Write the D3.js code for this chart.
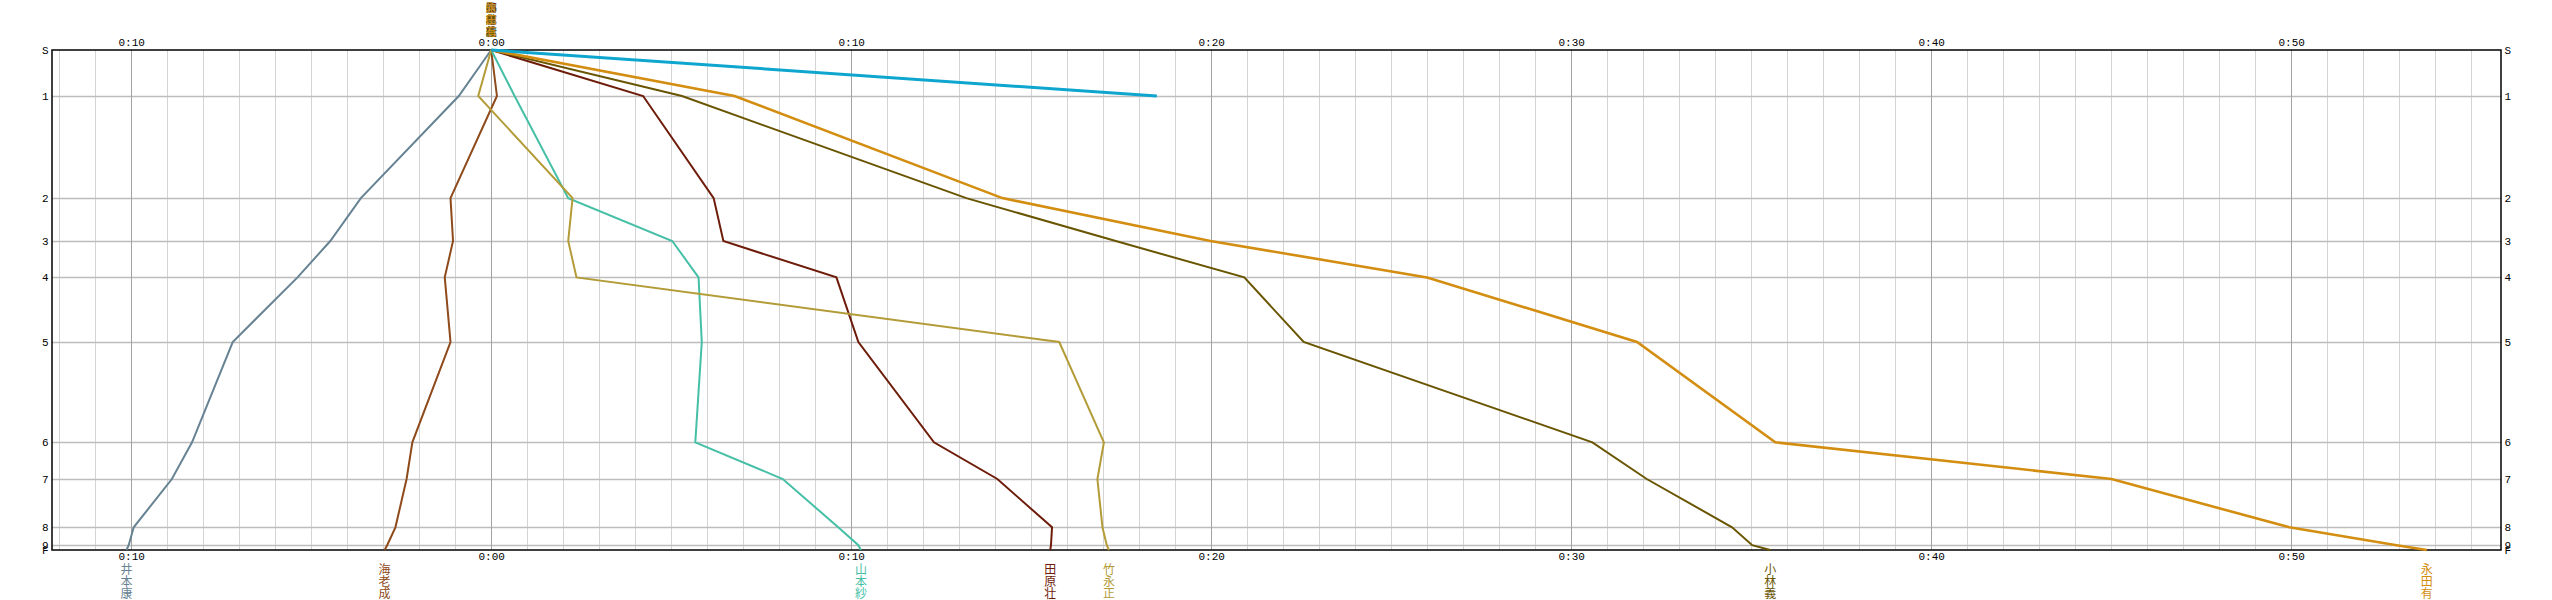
<!DOCTYPE html>
<html>
<head>
<meta charset="utf-8">
<script src="https://cdn.jsdelivr.net/npm/d3@7"></script>
<style>
  html, body { margin: 0; padding: 0; background: #ffffff; }
  svg { display: block; }
</style>
</head>
<body>
<svg id="chart" width="2552" height="600"></svg>
<script>
// ---- data ----
const controls = ["S", "1", "2", "3", "4", "5", "6", "7", "8", "9", "F"];
// cumulative course position of each control (km)
const controlDist = [0, 0.46, 1.481, 1.91, 2.274, 2.92, 3.923, 4.29, 4.773, 4.952, 5.0];
// time difference (minutes) against reference at each control
const names = ["井本康", "海老成", "山本紗", "田原壮", "竹永正", "小林義", "永田有", ""];
const inomoto   = [0, -0.9, -3.62, -4.47, -5.38, -7.18, -8.31, -8.87, -9.93, -10.07, -10.13];
const ebi       = [0, 0.16, -1.13, -1.06, -1.29, -1.13, -2.19, -2.35, -2.66, -2.89, -2.96];
const yamamoto  = [0, 0.65, 2.14, 5.03, 5.76, 5.85, 5.67, 8.1, 9.64, 10.2, 10.27];
const tahara    = [0, 4.22, 6.18, 6.45, 9.59, 10.2, 12.3, 14.06, 15.58, 15.55, 15.53];
const takenaga  = [0, -0.36, 2.26, 2.14, 2.37, 15.78, 17.02, 16.84, 16.98, 17.1, 17.16];
const kobayashi = [0, 5.3, 13.2, 17.35, 20.92, 22.57, 30.59, 32.1, 34.47, 35.03, 35.53];
const nagata    = [0, 6.76, 14.2, 19.98, 26.0, 31.83, 35.67, 45.01, 49.95, 52.93, 53.77];
const unnamed   = [0, 18.49];
const seriesValues = [inomoto, ebi, yamamoto, tahara, takenaga, kobayashi, nagata, unnamed];
const colors = ["#678393", "#8e4a1a", "#45bfa6", "#6e1c0a", "#b39c38", "#695500", "#d38e12", "#0ea6cf"];
const widths = [2, 2, 2, 2, 2, 2, 2.6, 3];
const xTicks = [-10, 0, 10, 20, 30, 40, 50];
const xDomain = [-12.2, 55.83];

// ---- layout ----
const svg = d3.select("#chart");
const L = 52, R = 2501, T = 50, B = 550;
const x = d3.scaleLinear().domain(xDomain).range([L, R]);
const y = d3.scaleLinear().domain([0, 5.0]).range([T, B]);

const fmt = m => "0:" + String(Math.abs(m)).padStart(2, "0");
const tickFont = "'Liberation Mono', 'DejaVu Sans Mono', monospace";
const cjkFont = "'Noto Sans CJK JP', 'Noto Sans CJK SC', sans-serif";

// minor vertical grid each minute
const minutes = d3.range(Math.ceil(xDomain[0]), Math.floor(xDomain[1]) + 1);
svg.append("g").selectAll("line").data(minutes.filter(m => m % 10 !== 0)).join("line")
  .attr("x1", d => Math.round(x(d)) + 0.5).attr("x2", d => Math.round(x(d)) + 0.5)
  .attr("y1", T).attr("y2", B)
  .attr("stroke", "#d4d4d4").attr("stroke-width", 1);

// horizontal control lines
svg.append("g").selectAll("line").data(controlDist.slice(1, -1)).join("line")
  .attr("x1", L).attr("x2", R)
  .attr("y1", d => Math.round(y(d)) + 0.5).attr("y2", d => Math.round(y(d)) + 0.5)
  .attr("stroke", "#bdbdbd").attr("stroke-width", 1.5);

// major vertical grid
svg.append("g").selectAll("line").data(minutes.filter(m => m % 10 === 0)).join("line")
  .attr("x1", d => Math.round(x(d)) + 0.5).attr("x2", d => Math.round(x(d)) + 0.5)
  .attr("y1", T).attr("y2", B)
  .attr("stroke", "#a2a2a2").attr("stroke-width", 1);

// frame
svg.append("rect").attr("x", L).attr("y", T).attr("width", R - L).attr("height", B - T)
  .attr("fill", "none").attr("stroke", "#000").attr("stroke-width", 1.5);

// axes with D3
const topAxis = d3.axisTop(x).tickValues(xTicks).tickFormat(fmt).tickSize(0).tickPadding(3);
const botAxis = d3.axisBottom(x).tickValues(xTicks).tickFormat(fmt).tickSize(0).tickPadding(1.5);
const leftAxis = d3.axisLeft(y).tickValues(controlDist).tickFormat((d, i) => controls[i]).tickSize(0).tickPadding(3);
const rightAxis = d3.axisRight(y).tickValues(controlDist).tickFormat((d, i) => controls[i]).tickSize(0).tickPadding(3);

function styleAxis(g) {
  g.select(".domain").remove();
  g.selectAll("text").attr("font-family", tickFont).attr("font-size", 11).attr("fill", "#000");
}
svg.append("g").attr("transform", `translate(0,${T - 1})`).call(topAxis).call(styleAxis);
svg.append("g").attr("transform", `translate(0,${B + 1})`).call(botAxis).call(styleAxis);
svg.append("g").attr("transform", `translate(${L - 0.5},0)`).call(leftAxis).call(styleAxis);
svg.append("g").attr("transform", `translate(${R + 0.5},0)`).call(rightAxis).call(styleAxis);

// series lines
const line = d3.line().x(d => x(d.v)).y(d => y(d.d));
seriesValues.forEach((vals, i) => {
  const pts = vals.map((v, k) => ({ v: v, d: controlDist[k] }));
  svg.append("path").datum(pts)
    .attr("d", line)
    .attr("fill", "none")
    .attr("stroke", colors[i])
    .attr("stroke-width", widths[i])
    .attr("stroke-linejoin", "miter");
});

// vertical name labels
function verticalName(name, cx, y0, step, size, color) {
  const g = svg.append("g");
  Array.from(name).forEach((ch, k) => {
    g.append("text")
      .attr("x", cx).attr("y", y0 + k * step)
      .attr("text-anchor", "middle")
      .attr("font-family", cjkFont)
      .attr("font-size", size)
      .attr("fill", color)
      .text(ch);
  });
}
// start labels (all overlapping at 0:00)
seriesValues.forEach((vals, i) => {
  if (names[i]) verticalName(names[i], x(vals[0]), 11.5, 12, 11, colors[i]);
});
// finish labels
seriesValues.forEach((vals, i) => {
  if (names[i] && vals.length === controls.length) {
    verticalName(names[i], x(vals[vals.length - 1]), 573.5, 12.3, 12, colors[i]);
  }
});
</script>
</body>
</html>
